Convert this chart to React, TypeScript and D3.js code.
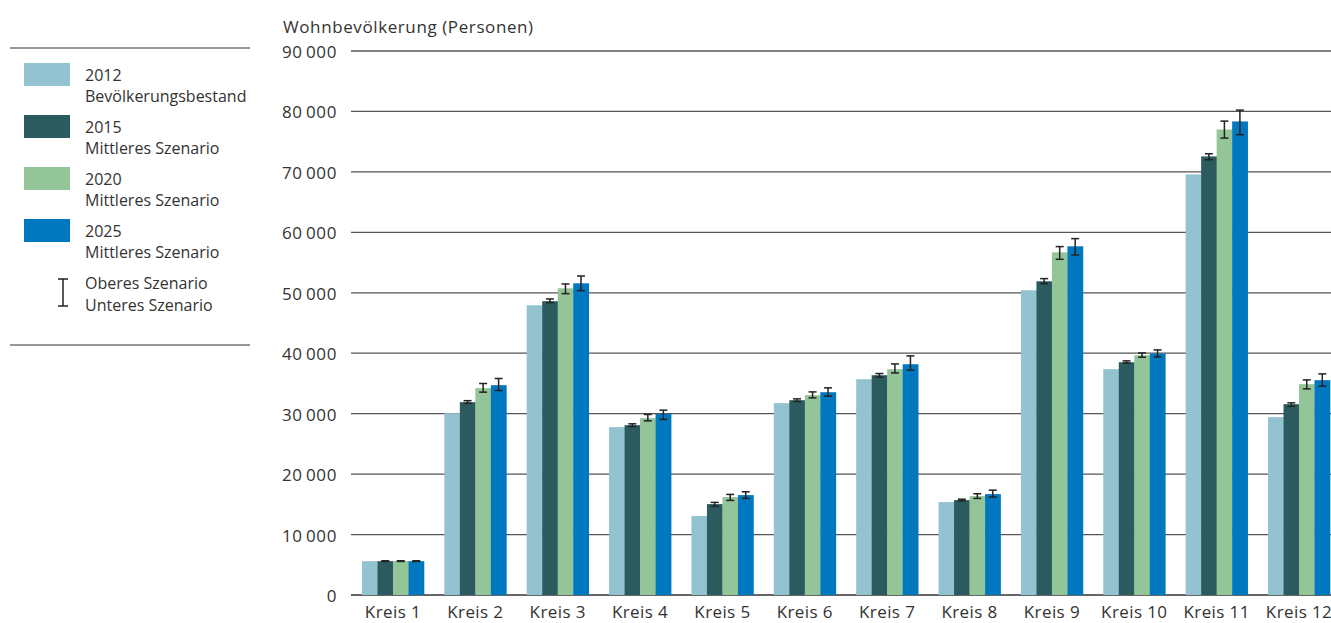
import * as d3 from "d3";

const kreise = ["Kreis 1", "Kreis 2", "Kreis 3", "Kreis 4", "Kreis 5", "Kreis 6", "Kreis 7", "Kreis 8", "Kreis 9", "Kreis 10", "Kreis 11", "Kreis 12"];

const series = ["2012", "2015", "2020", "2025"];
const seriesSub = ["Bevölkerungsbestand", "Mittleres Szenario", "Mittleres Szenario", "Mittleres Szenario"];
const colors = ["#93c2d0", "#2b5a5f", "#94c598", "#0078c0"];

const v2012 = [5600, 30080, 47930, 27770, 13060, 31740, 35700, 15370, 50410, 37360, 69590, 29420];
const v2015 = [5600, 31900, 48600, 28100, 15040, 32230, 36360, 15700, 51900, 38510, 72560, 31570];
const v2020 = [5600, 34220, 50740, 29260, 16200, 33060, 37350, 16360, 56690, 39670, 77020, 34880];
const v2025 = [5600, 34710, 51570, 29970, 16530, 33550, 38180, 16690, 57690, 39950, 78350, 35540];

// upper / lower scenario (no range for 2012)
const hi2015 = [5660, 32150, 48980, 28320, 15320, 32450, 36640, 15850, 52340, 38730, 73000, 31790];
const lo2015 = [5550, 31700, 48380, 27880, 14660, 32010, 36030, 15560, 51520, 38350, 72010, 31240];
const hi2020 = [5660, 34990, 51460, 29870, 16640, 33600, 38230, 16750, 57640, 40050, 78400, 35590];
const lo2020 = [5550, 33560, 49860, 28810, 15650, 32610, 36740, 15980, 55540, 39340, 75590, 34100];
const hi2025 = [5660, 35820, 52780, 30580, 17080, 34270, 39560, 17350, 58960, 40550, 80220, 36580];
const lo2025 = [5550, 33830, 50360, 29040, 15980, 32890, 37190, 16200, 56250, 39390, 76150, 34550];

const yTicks = [0, 10000, 20000, 30000, 40000, 50000, 60000, 70000, 80000, 90000];

const values = [v2012, v2015, v2020, v2025];
const highs: (number[] | null)[] = [null, hi2015, hi2020, hi2025];
const lows: (number[] | null)[] = [null, lo2015, lo2020, lo2025];

const W = 1331;
const H = 623;
const FONT = "'Open Sans', 'Noto Sans', sans-serif";
const TXT = "#333";

export default function App() {
  const y = d3.scaleLinear().domain([0, 90000]).range([595, 51]);
  const x = d3.scaleBand<string>().domain(kreise).range([352, 1340]).paddingInner(0.247).paddingOuter(0.121);
  const xs = d3.scaleBand<string>().domain(series).range([0, x.bandwidth()]);
  const fmt = (v: number) => d3.format(",")(v).replace(/,/g, "\u2009");

  return (
    <svg width={W} height={H} style={{ position: "absolute", left: 0, top: 0 }} fontFamily={FONT}>
      <text x={283} y={33} fontSize={17} letterSpacing={0.6} fill={TXT}>Wohnbevölkerung (Personen)</text>

      {yTicks.map((t) => (
        <g key={t}>
          <line x1={351} x2={1331} y1={y(t)} y2={y(t)} stroke={t === 0 ? "#333" : "#555"} strokeWidth={1.3} />
          <text x={337} y={y(t) + 7} textAnchor="end" fontSize={17} letterSpacing={0.6} fill={TXT}>{fmt(t)}</text>
        </g>
      ))}

      {kreise.map((k, i) => (
        <g key={k} transform={`translate(${x(k)},0)`}>
          {series.map((s, j) => (
            <rect key={s} x={xs(s)} y={y(values[j][i])} width={xs.bandwidth() + 0.3} height={y(0) - y(values[j][i])} fill={colors[j]} />
          ))}
          {series.map((s, j) => {
            const hi = highs[j];
            const lo = lows[j];
            if (!hi || !lo) return null;
            const cx = (xs(s) ?? 0) + xs.bandwidth() / 2;
            return (
              <g key={s} stroke="#222" strokeWidth={1.5}>
                <line x1={cx} x2={cx} y1={y(hi[i])} y2={y(lo[i])} />
                <line x1={cx - 4} x2={cx + 4} y1={y(hi[i])} y2={y(hi[i])} />
                <line x1={cx - 4} x2={cx + 4} y1={y(lo[i])} y2={y(lo[i])} />
              </g>
            );
          })}
          <text x={x.bandwidth() / 2} y={618} textAnchor="middle" fontSize={17} letterSpacing={0.4} fill={TXT}>{k}</text>
        </g>
      ))}

      {/* legend */}
      <line x1={10} x2={250} y1={48} y2={48} stroke="#333" strokeWidth={1.2} />
      <line x1={10} x2={250} y1={345} y2={345} stroke="#333" strokeWidth={1.2} />
      {series.map((s, j) => (
        <g key={s} transform={`translate(0,${63 + j * 52})`}>
          <rect x={24} y={0} width={46} height={23} fill={colors[j]} />
          <text x={85} y={18} fontSize={16} fill={TXT}>{s}</text>
          <text x={85} y={39} fontSize={16} fill={TXT}>{seriesSub[j]}</text>
        </g>
      ))}
      <g stroke="#222" strokeWidth={1.5}>
        <line x1={63} x2={63} y1={279} y2={306} />
        <line x1={58} x2={68} y1={279} y2={279} />
        <line x1={58} x2={68} y1={306} y2={306} />
      </g>
      <text x={85} y={289} fontSize={16} fill={TXT}>Oberes Szenario</text>
      <text x={85} y={311} fontSize={16} fill={TXT}>Unteres Szenario</text>
    </svg>
  );
}
